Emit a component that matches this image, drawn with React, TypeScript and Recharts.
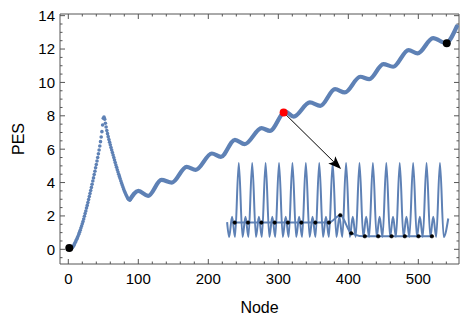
import React from 'react';
import { ComposedChart, Line, Scatter, XAxis, YAxis, ReferenceDot, ReferenceLine } from 'recharts';

const BLUE = '#5E81B5';
const FRAME = '#555555';
const FONT = '"Liberation Sans", Arial, Helvetica, sans-serif';

// ---- main curve: early section, one value per node (0..88) ----
const sparsePES = [
  0.00, 0.00, 0.01, 0.02, 0.04, 0.07, 0.12, 0.18, 0.25, 0.33,
  0.42, 0.51, 0.60, 0.70, 0.80, 0.91, 1.02, 1.14, 1.27, 1.40,
  1.53, 1.67, 1.82, 1.98, 2.14, 2.30, 2.47, 2.63, 2.80, 2.98,
  3.16, 3.34, 3.52, 3.71, 3.90, 4.09, 4.28, 4.48, 4.68, 4.88,
  5.08, 5.29, 5.50, 5.72, 5.95, 6.19, 6.45, 6.73, 7.05, 7.45,
  7.85, 7.92, 7.80, 7.55, 7.33, 7.12, 6.93, 6.75, 6.58, 6.42,
  6.26, 6.10, 5.95, 5.80, 5.65, 5.50, 5.35, 5.20, 5.05, 4.91,
  4.77, 4.63, 4.50, 4.37, 4.24, 4.11, 3.98, 3.86, 3.74, 3.62,
  3.51, 3.41, 3.31, 3.22, 3.13, 3.06, 3.00, 2.97, 2.97,
];

// ---- main curve: dense wavy section (key points) ----
const denseNodes = [88, 100, 114, 133, 148, 169, 182, 205, 218, 238, 252, 276, 288, 310, 322, 345, 360, 381, 395, 417, 430, 450, 464, 486, 499, 521, 539, 555];
const densePES = [2.97, 3.5, 3.2, 4.16, 4.0, 4.94, 4.76, 5.74, 5.54, 6.56, 6.3, 7.26, 7.1, 8.25, 7.95, 8.8, 8.6, 9.6, 9.4, 10.34, 10.2, 11.1, 10.94, 11.94, 11.74, 12.66, 12.36, 13.36];

// ---- highlighted points ----
const startPoint = { x: 1.4, y: 0.08 };
const redPoint = { x: 307.6, y: 8.2 };
const endPoint = { x: 540.6, y: 12.34 };
const arrowTip = { x: 389.6, y: 4.81 };

// ---- axis ticks ----
const xTicks = [0, 20, 40, 60, 80, 100, 120, 140, 160, 180, 200, 220, 240, 260, 280, 300, 320, 340, 360, 380, 400, 420, 440, 460, 480, 500, 520, 540];
const xMajor = [0, 100, 200, 300, 400, 500];
const yTicks = [-0.5, 0, 0.5, 1, 1.5, 2, 2.5, 3, 3.5, 4, 4.5, 5, 5.5, 6, 6.5, 7, 7.5, 8, 8.5, 9, 9.5, 10, 10.5, 11, 11.5, 12, 12.5, 13, 13.5, 14];
const yMajor = [0, 2, 4, 6, 8, 10, 12, 14];

// ---- inset: oscillation ----
const waveX = [
  -0.87, -0.72, -0.5, -0.28,
  0, 0.28, 0.5, 0.72,
  1, 1.28, 1.5, 1.72,
  2, 2.28, 2.5, 2.72,
  3, 3.28, 3.5, 3.72,
  4, 4.28, 4.5, 4.72,
  5, 5.28, 5.5, 5.72,
  6, 6.28, 6.5, 6.72,
  7, 7.28, 7.5, 7.72,
  8, 8.28, 8.5, 8.72,
  9, 9.28, 9.5, 9.72,
  10, 10.28, 10.5, 10.72,
  11, 11.28, 11.5, 11.72,
  12, 12.28, 12.5, 12.72,
  13, 13.28, 13.5, 13.72,
  14, 14.28, 14.5, 14.72,
  15, 15.28, 15.62,
];
const waveY = [
  -0.6, -1, -0.45, -1,
  1, -1, -0.45, -1,
  1, -1, -0.45, -1,
  1, -1, -0.45, -1,
  1, -1, -0.45, -1,
  1, -1, -0.45, -1,
  1, -1, -0.45, -1,
  1, -1, -0.45, -1,
  1, -1, -0.45, -1,
  1, -1, -0.45, -1,
  1, -1, -0.45, -1,
  1, -1, -0.45, -1,
  1, -1, -0.45, -1,
  1, -1, -0.45, -1,
  1, -1, -0.45, -1,
  1, -1, -0.45, -1,
  1, -1, -0.5,
];

// ---- inset: marked line ----
const markX = [-0.3, 0.69, 1.69, 2.68, 3.67, 4.67, 5.71, 6.72, 7.57, 8.39, 9.4, 10.4, 11.39, 12.38, 13.4, 14.4];
const markY = [-0.61, -0.61, -0.61, -0.61, -0.61, -0.61, -0.61, -0.61, -0.41, -0.9, -0.98, -0.98, -0.98, -0.98, -0.98, -0.98];

const sparseData = sparsePES.map((y, i) => ({ x: i, y }));
const denseData = denseNodes.map((x, i) => ({ x, y: densePES[i] }));
const waveData = waveX.map((x, i) => ({ x, y: waveY[i] }));
const markData = markX.map((x, i) => ({ x, y: markY[i] }));

const X_DOMAIN: [number, number] = [-11.86, 558.1];
const Y_DOMAIN: [number, number] = [-0.88, 14.1];
const IN_X_DOMAIN: [number, number] = [-13.33, 16.42];
const IN_Y_DOMAIN: [number, number] = [-1.73, 5.03];

const BottomLabel = (p: any) => {
  const { x, y, payload } = p;
  if (!xMajor.includes(payload.value)) return <g />;
  return (
    <text x={x} y={y + 20} textAnchor="middle" fontSize={15} fontFamily={FONT} fill="#000">
      {payload.value}
    </text>
  );
};
const LeftLabel = (p: any) => {
  const { x, y, payload } = p;
  if (!yMajor.includes(payload.value)) return <g />;
  return (
    <text x={x - 5} y={y + 5.4} textAnchor="end" fontSize={15} fontFamily={FONT} fill="#000">
      {payload.value}
    </text>
  );
};

// inward tick marks on bottom + top frame edges
const makeXTick = (major: boolean) => (p: any) => {
  const { x1, y1, y2 } = p;
  const top = Math.min(y1, y2);
  const bot = Math.max(y1, y2);
  const len = major ? 5 : 2.5;
  return (
    <g>
      <line x1={x1} y1={bot} x2={x1} y2={bot - len} stroke={FRAME} strokeWidth={1} />
      <line x1={x1} y1={top} x2={x1} y2={top + len} stroke={FRAME} strokeWidth={1} />
    </g>
  );
};
// inward tick marks on left + right frame edges
const makeYTick = (major: boolean) => (p: any) => {
  const { x1, x2, y1 } = p;
  const left = Math.min(x1, x2);
  const right = Math.max(x1, x2);
  const len = major ? 5 : 2.5;
  return (
    <g>
      <line x1={left} y1={y1} x2={left + len} y2={y1} stroke={FRAME} strokeWidth={1} />
      <line x1={right} y1={y1} x2={right - len} y2={y1} stroke={FRAME} strokeWidth={1} />
    </g>
  );
};
const FrameEdge = (p: any) => (
  <line x1={p.x1} y1={p.y1} x2={p.x2} y2={p.y2} stroke={FRAME} strokeWidth={1} />
);

const Arrow = (p: any) => {
  const { x1, y1, x2, y2 } = p;
  const dx = x2 - x1;
  const dy = y2 - y1;
  const L = Math.hypot(dx, dy) || 1;
  const ux = dx / L;
  const uy = dy / L;
  const hl = 13;
  const hw = 5;
  const bx = x2 - ux * hl;
  const by = y2 - uy * hl;
  const px = -uy;
  const py = ux;
  return (
    <g>
      <line x1={x1} y1={y1} x2={bx + ux * 3} y2={by + uy * 3} stroke="#000" strokeWidth={1} />
      <polygon
        points={`${x2},${y2} ${bx + px * hw},${by + py * hw} ${bx + ux * 3},${by + uy * 3} ${bx - px * hw},${by - py * hw}`}
        fill="#000"
      />
    </g>
  );
};

const Dot = (p: any) => <circle cx={p.cx} cy={p.cy} r={1.8} fill={BLUE} />;

export default function App() {
  return (
    <div style={{ position: 'absolute', left: 0, top: 0, width: 461, height: 320, background: '#fff' }}>
      <ComposedChart width={461} height={320} margin={{ top: 14, right: 2, bottom: 0, left: 0 }}>
        <XAxis
          xAxisId="a_main"
          type="number"
          dataKey="x"
          domain={X_DOMAIN}
          allowDataOverflow
          ticks={xTicks}
          interval={0}
          tickSize={0}
          tickMargin={0}
          tickLine={false}
          axisLine={false}
          tick={<BottomLabel />}
          height={56}
          label={{ value: 'Node', position: 'insideBottom', offset: 7, fontSize: 16, fill: '#000', fontFamily: FONT }}
        />
        <XAxis xAxisId="z_in" type="number" dataKey="x" domain={IN_X_DOMAIN} allowDataOverflow hide height={0} />
        <YAxis
          yAxisId="a_main"
          type="number"
          domain={Y_DOMAIN}
          allowDataOverflow
          ticks={yTicks}
          interval={0}
          tickSize={0}
          tickMargin={0}
          tickLine={false}
          axisLine={false}
          tick={<LeftLabel />}
          width={60}
          label={{
            content: () => (
              <text x={18} y={139} transform="rotate(-90 18 139)" textAnchor="middle" dominantBaseline="central" fontSize={16} fontFamily={FONT} fill="#000">
                PES
              </text>
            ),
          }}
        />
        <YAxis yAxisId="z_in" type="number" domain={IN_Y_DOMAIN} allowDataOverflow hide width={0} />

        <ReferenceLine xAxisId="a_main" yAxisId="a_main" x={X_DOMAIN[0]} shape={FrameEdge} />
        <ReferenceLine xAxisId="a_main" yAxisId="a_main" x={X_DOMAIN[1]} shape={FrameEdge} />
        <ReferenceLine xAxisId="a_main" yAxisId="a_main" y={Y_DOMAIN[0]} shape={FrameEdge} />
        <ReferenceLine xAxisId="a_main" yAxisId="a_main" y={Y_DOMAIN[1]} shape={FrameEdge} />
        {xTicks.map((v) => (
          <ReferenceLine key={'xt' + v} xAxisId="a_main" yAxisId="a_main" x={v} shape={makeXTick(xMajor.includes(v))} />
        ))}
        {yTicks.map((v) => (
          <ReferenceLine key={'yt' + v} xAxisId="a_main" yAxisId="a_main" y={v} shape={makeYTick(yMajor.includes(v))} />
        ))}

        <Line xAxisId="z_in" yAxisId="z_in" data={waveData} dataKey="y" type="monotone" stroke={BLUE} strokeWidth={2} dot={false} isAnimationActive={false} />
        <Line
          xAxisId="z_in"
          yAxisId="z_in"
          data={markData}
          dataKey="y"
          type="monotone"
          stroke={BLUE}
          strokeWidth={2}
          dot={{ r: 1.8, fill: '#000', stroke: '#000', strokeWidth: 0.5 }}
          isAnimationActive={false}
        />

        <Scatter xAxisId="a_main" yAxisId="a_main" data={sparseData} dataKey="y" shape={<Dot />} isAnimationActive={false} />
        <Line xAxisId="a_main" yAxisId="a_main" data={denseData} dataKey="y" type="monotone" stroke={BLUE} strokeWidth={4.2} strokeLinecap="round" dot={false} isAnimationActive={false} />

        <ReferenceLine xAxisId="a_main" yAxisId="a_main" segment={[redPoint, arrowTip]} shape={<Arrow />} />
        <ReferenceDot xAxisId="a_main" yAxisId="a_main" x={startPoint.x} y={startPoint.y} r={4} fill="#000" stroke="none" />
        <ReferenceDot xAxisId="a_main" yAxisId="a_main" x={redPoint.x} y={redPoint.y} r={4} fill="#ff0000" stroke="none" />
        <ReferenceDot xAxisId="a_main" yAxisId="a_main" x={endPoint.x} y={endPoint.y} r={4} fill="#000" stroke="none" />
      </ComposedChart>
    </div>
  );
}
